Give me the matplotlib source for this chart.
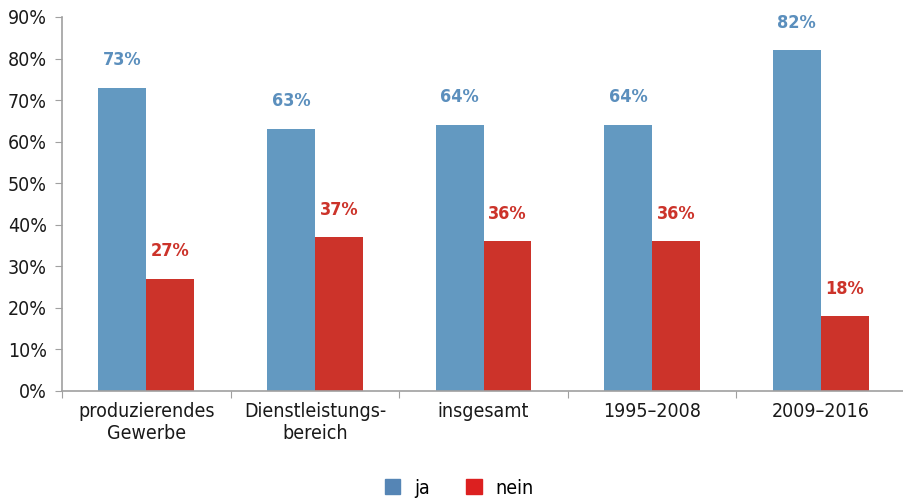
import matplotlib
matplotlib.use("Agg")
import matplotlib.pyplot as plt
import numpy as np
from matplotlib.patches import Patch

categories = ["produzierendes\nGewerbe", "Dienstleistungs-\nbereich", "insgesamt", "1995–2008", "2009–2016"]
ja = [73, 63, 64, 64, 82]
nein = [27, 37, 36, 36, 18]

plt.rcParams['font.family'] = ['DejaVu Sans']
plt.rcParams['font.stretch'] = 'condensed'

blue = "#6399c1"
red = "#cc332a"
fig = plt.figure(figsize=(9.04, 5.0), dpi=100)
ax = fig.add_axes([62/904, 1-391/500, (905-62)/904, (391-17)/500])

x = np.arange(len(categories))
w = 0.284
ax.bar(x - w/2, ja, w, color=blue)
ax.bar(x + w/2, nein, w, color=red)
for xi, v in zip(x, ja):
    ax.text(xi - w/2, v + 4.5, f"{v}%", ha="center", va="bottom", color="#5b8fbd", fontsize=13, fontweight="bold")
for xi, v in zip(x, nein):
    ax.text(xi + w/2, v + 4.5, f"{v}%", ha="center", va="bottom", color="#cc332a", fontsize=13, fontweight="bold")

ax.set_xlim(-0.5, len(categories) - 0.5)
ax.set_ylim(0, 90)
ax.set_yticks(range(0, 91, 10))
ax.set_yticklabels([f"{t}%" for t in range(0, 91, 10)], fontsize=14, color="#1a1a1a")
ax.set_xticks(np.arange(-0.5, len(categories), 1))
ax.set_xticklabels([])
ax.set_xticks(x, minor=True)
ax.set_xticklabels(categories, minor=True, fontsize=14, color="#1a1a1a")
ax.tick_params(axis="x", which="minor", length=0, pad=8)
ax.tick_params(axis="x", which="major", length=5, color="#a0a0a0", direction="out")
ax.tick_params(axis="y", length=5, color="#a0a0a0", pad=6)
for s in ["top", "right"]:
    ax.spines[s].set_visible(False)
for s in ["left", "bottom"]:
    ax.spines[s].set_color("#a0a0a0")
    ax.spines[s].set_linewidth(1.2)

handles = [Patch(color="#5585b5", label="ja"), Patch(color="#dc2020", label="nein")]
fig.legend(handles=handles, loc="center", bbox_to_anchor=(0.508, 1-488/500), ncol=2, frameon=False,
           fontsize=14, handlelength=0.8, handleheight=0.8, columnspacing=1.9, handletextpad=0.7)

fig.savefig("out.png", dpi=100)
